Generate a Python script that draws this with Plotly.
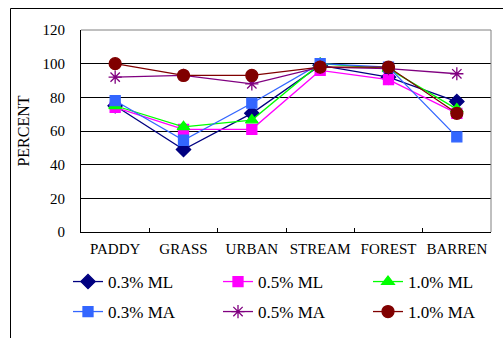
import plotly.graph_objects as go

categories = ["PADDY", "GRASS", "URBAN", "STREAM", "FOREST", "BARREN"]
ml_03 = [75, 49, 70.5, 99, 92, 77.5]
ml_05 = [74, 61, 61, 96, 90.5, 70.5]
ml_10 = [75, 62.5, 66.5, 100, 97, 73]
ma_03 = [78, 54.5, 76.5, 100, 98, 56.5]
ma_05 = [92, 93, 88, 98, 97, 94]
ma_10 = [100, 93, 93, 98, 98, 70.5]
y_ticks = [0, 20, 40, 60, 80, 100, 120]

series = [
    ("0.3% ML", ml_03, "#000080", "diamond", 11, "legend"),
    ("0.5% ML", ml_05, "#FF00FF", "square", 10, "legend"),
    ("1.0% ML", ml_10, "#00FF00", "triangle-up", 11, "legend"),
    ("0.3% MA", ma_03, "#3366FF", "square", 10, "legend2"),
    ("0.5% MA", ma_05, "#800080", "asterisk-open", 11, "legend2"),
    ("1.0% MA", ma_10, "#800000", "circle", 12, "legend2"),
]

fig = go.Figure()
for name, vals, color, sym, size, lg in series:
    fig.add_trace(go.Scatter(
        x=categories, y=vals, name=name, mode="lines+markers",
        line=dict(color=color, width=1.3),
        marker=dict(symbol=sym, size=size, color=color,
                    line=dict(color=color, width=1.3)),
        legend=lg,
    ))

W, H = 503, 338
L, R, T, B = 81, 12, 30, 106
PW, PH = W - L - R, H - T - B

legend_common = dict(
    orientation="h", xref="paper", yref="paper",
    xanchor="left", yanchor="middle",
    font=dict(family="Liberation Serif", size=17, color="black"),
    entrywidth=105, entrywidthmode="pixels",
    bgcolor="rgba(0,0,0,0)", itemclick=False, tracegroupgap=0,
)

fig.update_layout(
    width=W, height=H,
    margin=dict(l=L, r=R, t=T, b=B, autoexpand=False),
    paper_bgcolor="white", plot_bgcolor="white",
    font=dict(family="Liberation Serif", color="black"),
    showlegend=True,
    legend=dict(x=(68 - L) / PW, y=(H - B - 282) / PH, **legend_common),
    legend2=dict(x=(68 - L) / PW, y=(H - B - 312) / PH, **legend_common),
    xaxis=dict(
        type="category", showgrid=False, showline=True, linecolor="black",
        linewidth=1, ticks="inside", tickson="boundaries", ticklen=4,
        tickcolor="black", tickfont=dict(size=15, family="Liberation Serif"),
        tickangle=0, range=[-0.5, 5.5], fixedrange=True,
        ticklabelstandoff=3,
    ),
    yaxis=dict(
        range=[0, 120], tickvals=y_ticks, showgrid=True, gridcolor="black",
        gridwidth=1, showline=True, linecolor="black", linewidth=1,
        ticks="inside", ticklen=5, tickcolor="black",
        tickfont=dict(size=15, family="Liberation Serif"),
        title=dict(text="PERCENT", font=dict(size=16, family="Liberation Serif"),
                   standoff=8),
        zeroline=False, ticklabelstandoff=12, fixedrange=True,
    ),
    shapes=[
        dict(type="line", xref="paper", yref="paper", x0=0, x1=1, y0=1, y1=1,
             line=dict(color="#808080", width=1)),
        dict(type="line", xref="paper", yref="paper", x0=1, x1=1, y0=0, y1=1,
             line=dict(color="#808080", width=1)),
        dict(type="line", xref="paper", yref="paper",
             x0=(10.5 - L) / PW, x1=(W + 5 - L) / PW,
             y0=1 + (T - 8.5) / PH, y1=1 + (T - 8.5) / PH,
             line=dict(color="black", width=1)),
        dict(type="line", xref="paper", yref="paper",
             x0=(10.5 - L) / PW, x1=(10.5 - L) / PW,
             y0=1 + (T - 8.5) / PH, y1=-(B + 5) / PH,
             line=dict(color="black", width=1)),
    ],
)

fig.write_html("out.html", config={"displayModeBar": False},
               post_script="document.body.style.margin='0px';")
